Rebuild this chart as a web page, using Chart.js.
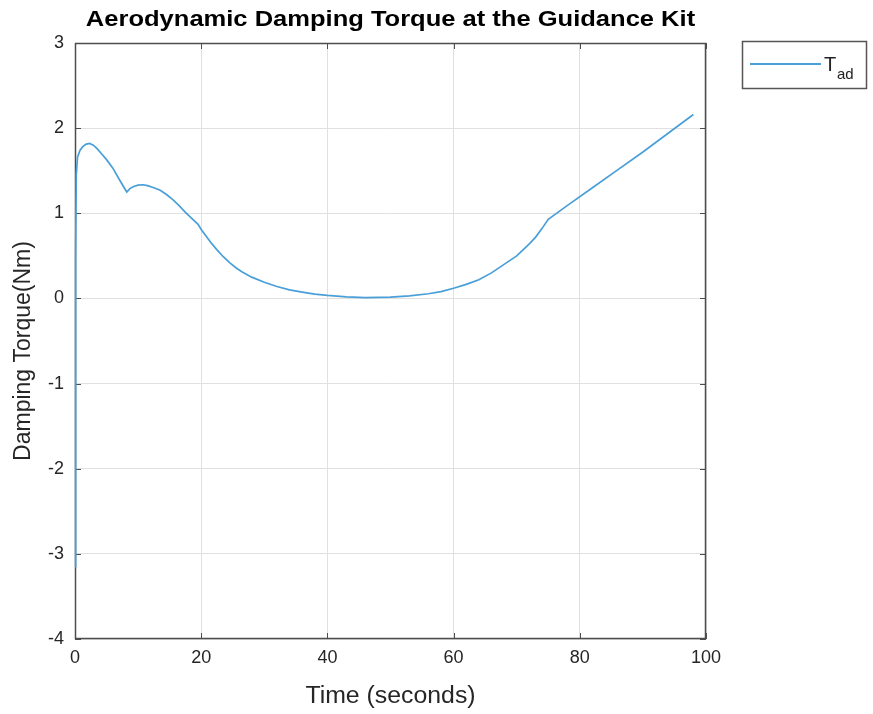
<!DOCTYPE html>
<html>
<head>
<meta charset="utf-8">
<script src="https://cdn.jsdelivr.net/npm/chart.js@4/dist/chart.umd.min.js"></script>
<style>
  html, body { margin: 0; padding: 0; background: #fff; }
  #wrap { width: 873px; height: 714px; }
</style>
</head>
<body>
<div id="wrap"><canvas id="torqueChart" width="873" height="714"></canvas></div>
<script>
// Aerodynamic damping torque vs. time
const timeSec = [0, 0.1, 0.2, 0.4, 0.8, 1.2, 1.7, 2.3, 2.9, 3.5, 4.2, 5.0, 6.0, 7.0, 8.2, 8.7, 9.3, 10.0, 10.8,
  11.5, 12.5, 13.5, 14.5, 15.5, 16.5, 17.5, 18.5, 19.5, 20.0, 20.7, 21.5, 22.5, 23.5, 24.5, 25.5, 26.5, 28,
  30, 32, 34, 36, 38, 40, 43, 46, 50, 53, 56, 58, 60, 62, 64, 66, 68, 70, 71, 72, 73, 74, 75, 78, 82, 86,
  90, 94, 98];
const torqueNm = [-3.15, 0.5, 1.45, 1.66, 1.74, 1.78, 1.81, 1.82, 1.80, 1.76, 1.70, 1.63, 1.53, 1.40, 1.25, 1.29,
  1.315, 1.33, 1.335, 1.325, 1.30, 1.27, 1.22, 1.16, 1.09, 1.01, 0.94, 0.87, 0.81, 0.74, 0.66, 0.57, 0.49,
  0.42, 0.36, 0.31, 0.25, 0.19, 0.14, 0.10, 0.075, 0.05, 0.035, 0.018, 0.01, 0.015, 0.03, 0.055, 0.08, 0.12,
  0.165, 0.22, 0.30, 0.40, 0.50, 0.57, 0.64, 0.72, 0.82, 0.93, 1.09, 1.30, 1.51, 1.72, 1.94, 2.16];
const xTicks = [0, 20, 40, 60, 80, 100];
const yTicks = [-4, -3, -2, -1, 0, 1, 2, 3];

const TITLE = 'Aerodynamic Damping Torque at the Guidance Kit';
const X_LABEL = 'Time (seconds)';
const Y_LABEL = 'Damping Torque(Nm)';
const LINE_COLOR = '#4a9fd8';
const AXIS_COLOR = '#262626';
const FONT = 'Arial, "Liberation Sans", sans-serif';

// text stretched horizontally around its centre
function wideText(ctx, text, x, y, sx) {
  ctx.save();
  ctx.translate(x, y);
  ctx.scale(sx, 1);
  ctx.fillText(text, 0, 0);
  ctx.restore();
}

// box and inward ticks go under the curve
const matlabFrame = {
  id: 'matlabFrame',
  beforeDatasetsDraw(chart) {
    const { ctx, chartArea: a, scales } = chart;
    ctx.save();
    ctx.strokeStyle = '#4d4d4d';
    ctx.lineWidth = 1.5;
    ctx.strokeRect(a.left + 0.5, a.top + 0.5, a.right - a.left - 1, a.bottom - a.top - 1);

    ctx.lineWidth = 1;
    ctx.beginPath();
    xTicks.forEach(v => {
      const x = Math.round(scales.x.getPixelForValue(v)) + 0.5;
      ctx.moveTo(x, a.bottom); ctx.lineTo(x, a.bottom - 6);
      ctx.moveTo(x, a.top); ctx.lineTo(x, a.top + 6);
    });
    yTicks.forEach(v => {
      const y = Math.round(scales.y.getPixelForValue(v)) + 0.5;
      ctx.moveTo(a.left, y); ctx.lineTo(a.left + 6, y);
      ctx.moveTo(a.right, y); ctx.lineTo(a.right - 6, y);
    });
    ctx.stroke();
    ctx.restore();
  },
  afterDraw(chart) {
    const { ctx, chartArea: a } = chart;
    ctx.save();
    ctx.textAlign = 'center';

    // title
    ctx.fillStyle = '#000';
    ctx.font = 'bold 22px ' + FONT;
    ctx.textBaseline = 'middle';
    wideText(ctx, TITLE, (a.left + a.right) / 2, 20, 1.16);

    // axis titles
    ctx.fillStyle = AXIS_COLOR;
    ctx.font = '23px ' + FONT;
    ctx.textBaseline = 'alphabetic';
    wideText(ctx, X_LABEL, (a.left + a.right) / 2, 703, 1.08);
    ctx.save();
    ctx.translate(30, (a.top + a.bottom) / 2 + 10);
    ctx.rotate(-Math.PI / 2);
    ctx.fillText(Y_LABEL, 0, 0);
    ctx.restore();

    // legend
    const lx = 742, ly = 41, lw = 124, lh = 47;
    ctx.fillStyle = '#fff';
    ctx.fillRect(lx, ly, lw, lh);
    ctx.strokeStyle = '#555';
    ctx.lineWidth = 1.5;
    ctx.strokeRect(lx + 0.5, ly + 0.5, lw, lh);
    ctx.strokeStyle = LINE_COLOR;
    ctx.lineWidth = 2;
    ctx.beginPath();
    ctx.moveTo(750, 64); ctx.lineTo(821, 64);
    ctx.stroke();
    ctx.fillStyle = '#222';
    ctx.textAlign = 'left';
    ctx.font = '20px ' + FONT;
    ctx.fillText('T', 824, 71);
    ctx.font = '15px ' + FONT;
    ctx.fillText('ad', 837, 79);
    ctx.restore();
  }
};

new Chart(document.getElementById('torqueChart'), {
  type: 'line',
  data: {
    datasets: [{
      label: 'T_ad',
      data: timeSec.map((t, i) => ({ x: t, y: torqueNm[i] })),
      borderColor: LINE_COLOR,
      borderWidth: 1.7,
      pointRadius: 0,
      fill: false,
      tension: 0,
      clip: false,
    }],
  },
  options: {
    responsive: false,
    animation: false,
    layout: { padding: { left: 0, top: 43, right: 167, bottom: 0 } },
    plugins: { legend: { display: false }, title: { display: false }, tooltip: { enabled: false } },
    scales: {
      x: {
        type: 'linear',
        min: 0, max: 100,
        afterBuildTicks: s => { s.ticks = xTicks.map(v => ({ value: v })); },
        afterFit: s => { s.height = 75; },
        border: { display: false },
        grid: { color: '#e0e0e0', drawTicks: false },
        ticks: { color: AXIS_COLOR, font: { family: FONT, size: 18 }, padding: 8 },
      },
      y: {
        min: -4, max: 3,
        afterBuildTicks: s => { s.ticks = yTicks.map(v => ({ value: v })); },
        afterFit: s => { s.width = 75; },
        border: { display: false },
        grid: { color: '#e0e0e0', drawTicks: false },
        ticks: { color: AXIS_COLOR, font: { family: FONT, size: 18 }, padding: 11 },
      },
    },
  },
  plugins: [matlabFrame],
});
</script>
</body>
</html>
